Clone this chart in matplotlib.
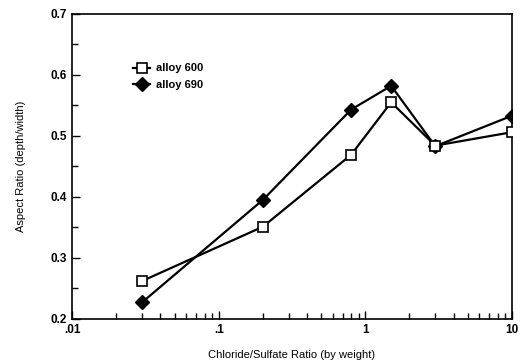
import matplotlib
matplotlib.use('Agg')
from matplotlib import pyplot as plt
from matplotlib.ticker import FixedLocator, LogLocator, NullFormatter, MultipleLocator, FormatStrFormatter

ratio = [0.03, 0.2, 0.8, 1.5, 3.0, 10.0]
alloy_600 = [0.262, 0.351, 0.469, 0.555, 0.484, 0.506]
alloy_690 = [0.227, 0.395, 0.543, 0.582, 0.483, 0.533]
xtick_vals = [0.01, 0.1, 1, 10]
xtick_labels = ['.01', '.1', '1', '10']

plt.rcParams['font.family'] = ['Liberation Sans', 'DejaVu Sans']

fig = plt.figure(figsize=(5.3, 3.64), dpi=100)
ax = fig.add_axes([0.136, 0.124, 0.830, 0.838])

ax.plot(ratio, alloy_600, color='black', lw=1.6, marker='s', ms=7,
        mfc='white', mec='black', mew=1.2, label='alloy 600', zorder=3)
ax.plot(ratio, alloy_690, color='black', lw=1.6, marker='D', ms=7,
        mfc='black', mec='black', label='alloy 690', zorder=2)

ax.set_xscale('log')
ax.set_xlim(0.01, 10)
ax.set_ylim(0.2, 0.7)
ax.xaxis.set_major_locator(FixedLocator(xtick_vals))
ax.set_xticklabels(xtick_labels)
ax.xaxis.set_minor_locator(LogLocator(base=10, subs=range(2, 10)))
ax.xaxis.set_minor_formatter(NullFormatter())
ax.yaxis.set_major_locator(MultipleLocator(0.1))
ax.yaxis.set_minor_locator(MultipleLocator(0.05))
ax.yaxis.set_major_formatter(FormatStrFormatter('%.1f'))

ax.tick_params(which='both', direction='in', top=False, right=False,
               labelsize=8.5, width=1)
ax.tick_params(which='major', length=6)
ax.tick_params(which='minor', length=4)
for lab in ax.get_xticklabels() + ax.get_yticklabels():
    lab.set_fontweight('bold')
for sp in ax.spines.values():
    sp.set_linewidth(1.2)

ax.set_xlabel('Chloride/Sulfate Ratio (by weight)', fontsize=8, labelpad=10)
ax.set_ylabel('Aspect Ratio (depth/width)', fontsize=8, labelpad=18)

leg = ax.legend(loc='upper left', bbox_to_anchor=(0.115, 0.87), frameon=False,
                handlelength=1.6, handletextpad=0.5, labelspacing=0.6,
                prop={'weight': 'bold', 'size': 8})

fig.savefig('out.png', dpi=100)
